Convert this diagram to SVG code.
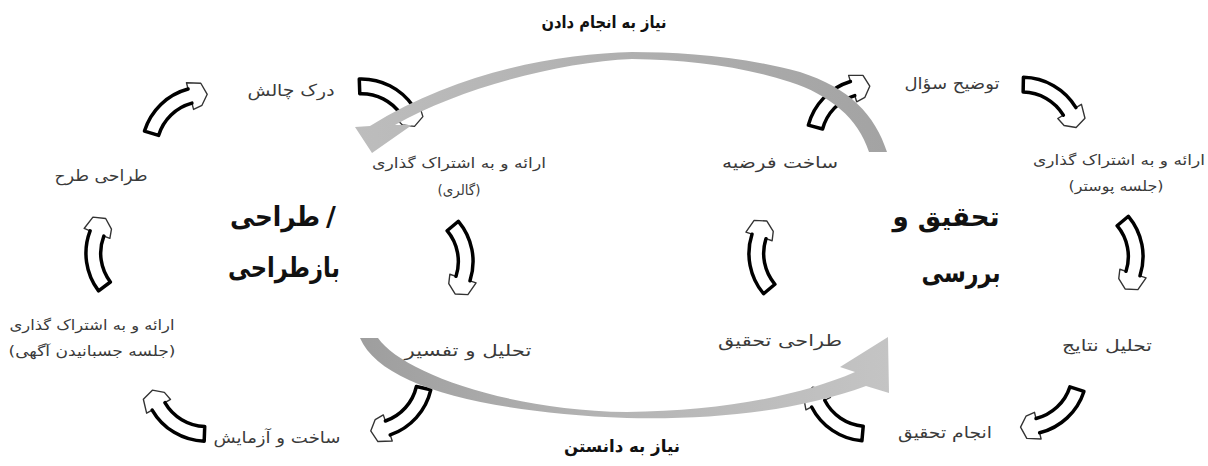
<svg xmlns="http://www.w3.org/2000/svg" xmlns:xlink="http://www.w3.org/1999/xlink" width="1208" height="466" viewBox="0 0 1208 466">
<style>
.lbl{font-family:"DejaVu Sans","Noto Sans",sans-serif;font-size:16px;fill:#3a3a3a;text-anchor:middle}
.sm{font-size:14px}
.big{font-family:"DejaVu Sans","Noto Sans",sans-serif;font-size:27px;font-weight:bold;fill:#111;text-anchor:middle}
.cap{font-family:"DejaVu Sans","Noto Sans",sans-serif;font-size:17px;font-weight:bold;fill:#111;text-anchor:middle}
.body{fill:none;stroke:#000;stroke-width:3.8;stroke-linejoin:round;stroke-linecap:round}
.head{fill:none;stroke:#333;stroke-width:1.5;stroke-linejoin:round}
.fillw{fill:#fff;stroke:none}
</style>
<defs>
<g id="ca" transform="scale(0.92)">
<path class="fillw" d="M-42.1,3.9 A68,68 0 0 1 22.6,-8.7 L24.8,-15.3 L37.6,-6.4 L36.9,7.5 L25.6,14.4 L15.5,13.2 L17.7,6.5 A52,52 0 0 0 -31.8,16.2 Z"/>
<path class="head" d="M22.6,-8.7 L24.8,-15.3 L37.6,-6.4 L36.9,7.5 L25.6,14.4 L15.5,13.2 L17.7,6.5"/>
<path class="body" d="M22.6,-8.7 A68,68 0 0 0 -42.1,3.9 L-31.8,16.2 A52,52 0 0 1 17.7,6.5"/>
</g>
<linearGradient id="gTop" x1="0" y1="0" x2="1" y2="0">
<stop offset="0" stop-color="#bdbdbd"/>
<stop offset="1" stop-color="#a3a3a3"/>
</linearGradient>
<linearGradient id="gBot" x1="0" y1="0" x2="1" y2="0">
<stop offset="0" stop-color="#9e9e9e"/>
<stop offset="0.5" stop-color="#b5b5b5"/>
<stop offset="1" stop-color="#c4c4c4"/>
</linearGradient>
</defs>
<rect width="1208" height="466" fill="#fff"/>

<g id="connectors">
<use xlink:href="#ca" transform="translate(175,107) rotate(-33)"/>
<use xlink:href="#ca" transform="translate(392,100) rotate(38)"/>
<use xlink:href="#ca" transform="translate(462,260) rotate(90)"/>
<use xlink:href="#ca" transform="translate(402,416) rotate(143)"/>
<use xlink:href="#ca" transform="translate(173,418) rotate(222)"/>
<use xlink:href="#ca" transform="translate(97,252) rotate(-87)"/>
<use xlink:href="#ca" transform="translate(838,100) rotate(-35)"/>
<use xlink:href="#ca" transform="translate(1055,100) rotate(41)"/>
<use xlink:href="#ca" transform="translate(1132,255) rotate(90)"/>
<use xlink:href="#ca" transform="translate(1053,415) rotate(148)"/>
<use xlink:href="#ca" transform="translate(832,416) rotate(225)"/>
<use xlink:href="#ca" transform="translate(760,255) rotate(-90)"/>
<path id="arcTop" fill="url(#gTop)" d="M887,152 C875,115 850,88 800,72 C740,56 680,52 632,52 C560,54 460,70 370,126 L355,127 L372,153 L412,125 L395,125 C460,88 560,62 632,59 C690,60 740,66 790,82 C830,95 858,118 869,152 Z"/>
<path id="arcBot" fill="url(#gBot)" d="M360,338 C380,385 480,412 627,418 C720,420 800,410 866,386 L889,393 L888,337 L840,367 L855,372 C800,396 720,411 627,412 C500,410 400,370 378,338 Z"/>
</g>

<g id="cap-top"><text class="cap" x="604" y="28" textLength="125" lengthAdjust="spacingAndGlyphs">نیاز به انجام دادن</text></g>
<g id="cap-bot"><text class="cap" x="622" y="452" textLength="116" lengthAdjust="spacingAndGlyphs">نیاز به دانستن</text></g>

<g id="center-left">
<text class="big" x="275" y="226" textLength="90" lengthAdjust="spacingAndGlyphs">طراحی</text>
<text class="big" x="331" y="226">/</text>
<text class="big" x="284" y="277" textLength="112" lengthAdjust="spacingAndGlyphs">بازطراحی</text>
</g>
<g id="center-right">
<text class="big" x="946" y="226" textLength="107" lengthAdjust="spacingAndGlyphs">تحقیق و</text>
<text class="big" x="961" y="282" textLength="79" lengthAdjust="spacingAndGlyphs">بررسی</text>
</g>

<g id="n-dark"><text class="lbl" x="291" y="96" textLength="87" lengthAdjust="spacingAndGlyphs">درک چالش</text></g>
<g id="n-tarh"><text class="lbl" x="101" y="181" textLength="93" lengthAdjust="spacingAndGlyphs">طراحی طرح</text></g>
<g id="n-agahi">
<text class="lbl sm" x="92" y="330" textLength="165" lengthAdjust="spacingAndGlyphs">ارائه و به اشتراک گذاری</text>
<text class="lbl sm" x="92" y="356" textLength="167" lengthAdjust="spacingAndGlyphs">(جلسه جسبانیدن آگهی)</text>
</g>
<g id="n-sakht"><text class="lbl" x="277" y="443" textLength="127" lengthAdjust="spacingAndGlyphs">ساخت و آزمایش</text></g>
<g id="n-tafsir"><text class="lbl" x="468" y="356" textLength="127" lengthAdjust="spacingAndGlyphs">تحلیل و تفسیر</text></g>
<g id="n-galery">
<text class="lbl sm" x="459" y="168" textLength="174" lengthAdjust="spacingAndGlyphs">ارائه و به اشتراک گذاری</text>
<text class="lbl sm" x="459" y="195" textLength="43" lengthAdjust="spacingAndGlyphs">(گالری)</text>
</g>
<g id="n-farzie"><text class="lbl" x="780" y="168" textLength="116" lengthAdjust="spacingAndGlyphs">ساخت فرضیه</text></g>
<g id="n-tarhtahghigh"><text class="lbl" x="780" y="346" textLength="124" lengthAdjust="spacingAndGlyphs">طراحی تحقیق</text></g>
<g id="n-soal"><text class="lbl" x="952" y="89" textLength="95" lengthAdjust="spacingAndGlyphs">توضیح سؤال</text></g>
<g id="n-poster">
<text class="lbl sm" x="1119" y="165" textLength="172" lengthAdjust="spacingAndGlyphs">ارائه و به اشتراک گذاری</text>
<text class="lbl sm" x="1116" y="191" textLength="95" lengthAdjust="spacingAndGlyphs">(جلسه پوستر)</text>
</g>
<g id="n-natayej"><text class="lbl" x="1107" y="351" textLength="90" lengthAdjust="spacingAndGlyphs">تحلیل نتایج</text></g>
<g id="n-anjam"><text class="lbl" x="945" y="438" textLength="94" lengthAdjust="spacingAndGlyphs">انجام تحقیق</text></g>
</svg>
